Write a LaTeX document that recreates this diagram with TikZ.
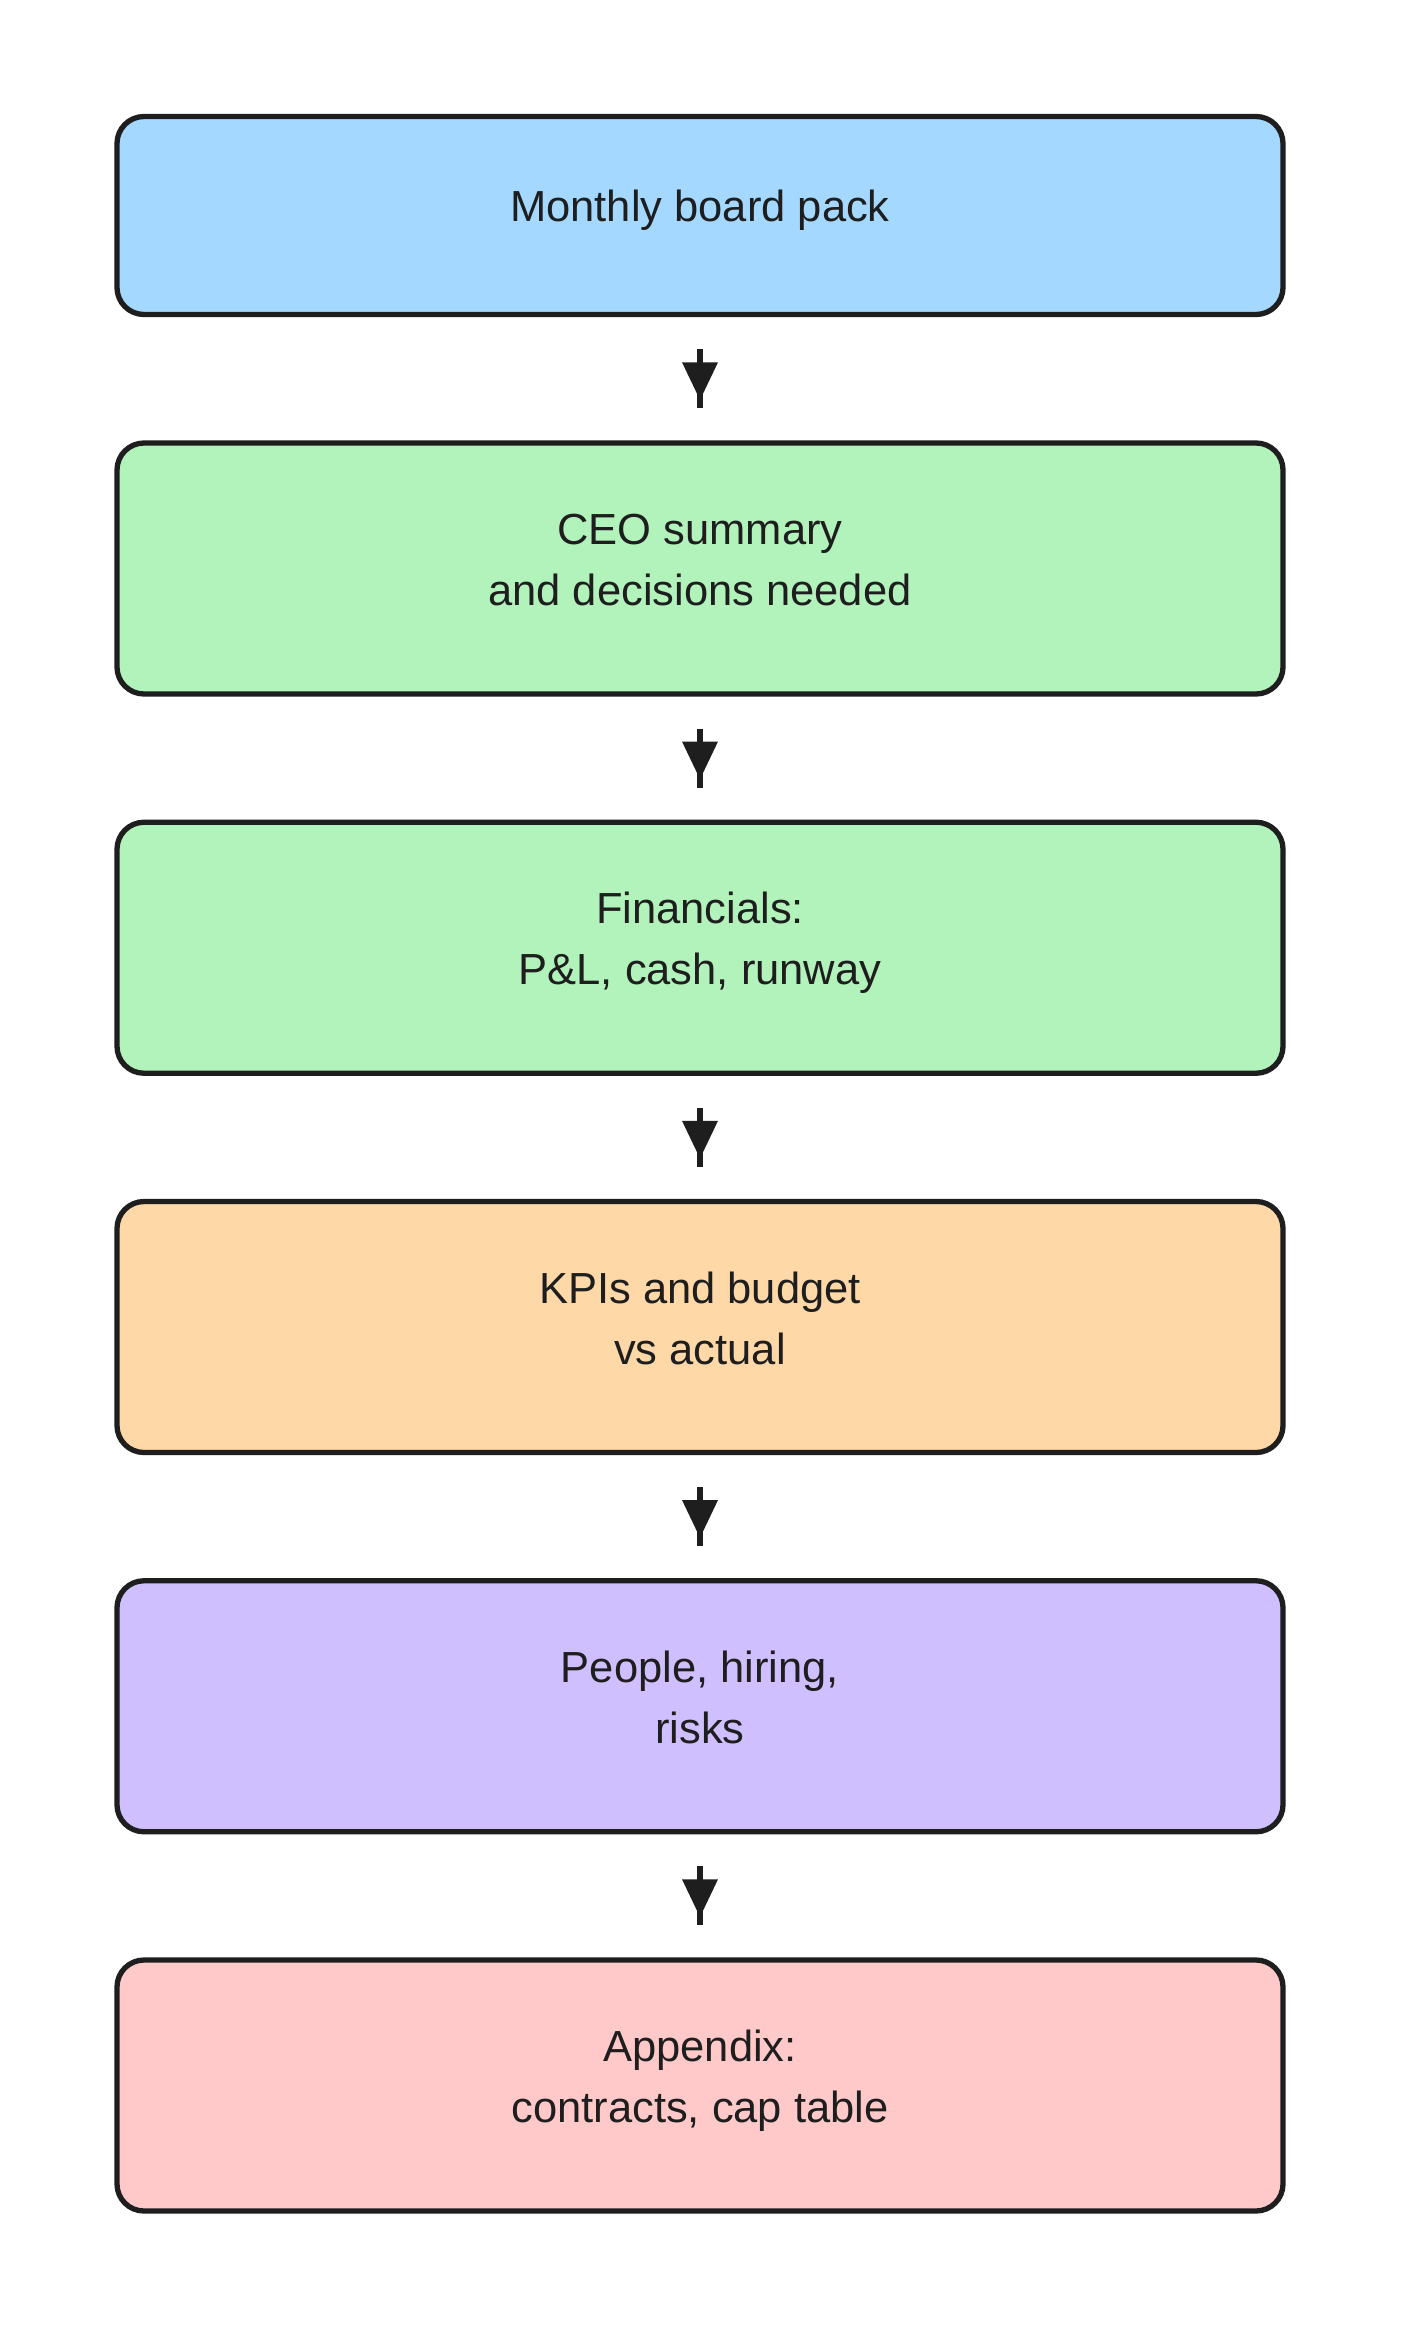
\documentclass[tikz,border=0pt]{standalone}
\usepackage{fontspec}
\setmainfont{Liberation Sans}
\usetikzlibrary{arrows.meta}
\definecolor{ink}{HTML}{1E1E1E}
\definecolor{cblue}{HTML}{A5D8FF}
\definecolor{cgreen}{HTML}{B2F2BB}
\definecolor{corange}{HTML}{FFD8A8}
\definecolor{cviolet}{HTML}{D0BFFF}
\definecolor{cred}{HTML}{FFC9C9}
\newcommand\lnstrut{\rule[-23pt]{0pt}{59pt}}
\tikzset{
  stagebox/.style={draw=ink, line width=5.3pt, rounded corners=27pt,
    minimum width=1166pt, minimum height=251pt, inner sep=0pt,
    align=center, text=ink, font=\fontsize{43.5}{61}\selectfont},
  shaft/.style={draw=ink, line width=6.7pt, shorten <=32pt, shorten >=32pt},
  tipped/.style={draw=ink, line width=6.7pt, shorten <=32pt, shorten >=40pt,
    -{Triangle[length=38pt,width=34pt]}}
}
\begin{document}
\begin{tikzpicture}[x=1pt,y=-1pt]
\useasboundingbox (0,0) rectangle (1400,2328);
\fill[white] (0,0) rectangle (1400,2328);
\node[stagebox, fill=cblue, minimum height=198pt] (b1) at (700,215.5) {\lnstrut Monthly board pack};
\node[stagebox, fill=cgreen] (b2) at (700,568.5) {\lnstrut CEO summary\\\lnstrut and decisions needed};
\node[stagebox, fill=cgreen] (b3) at (700,947.75) {\lnstrut Financials:\\\lnstrut P\&L, cash, runway};
\node[stagebox, fill=corange] (b4) at (700,1327) {\lnstrut KPIs and budget\\\lnstrut vs actual};
\node[stagebox, fill=cviolet] (b5) at (700,1706.25) {\lnstrut People, hiring,\\\lnstrut risks};
\node[stagebox, fill=cred] (b6) at (700,2085.5) {\lnstrut Appendix:\\\lnstrut contracts, cap table};
\foreach \a/\b in {b1/b2,b2/b3,b3/b4,b4/b5,b5/b6}{
  \draw[shaft] (\a) -- (\b);
  \draw[tipped] (\a) -- (\b);
}
\end{tikzpicture}
\end{document}
